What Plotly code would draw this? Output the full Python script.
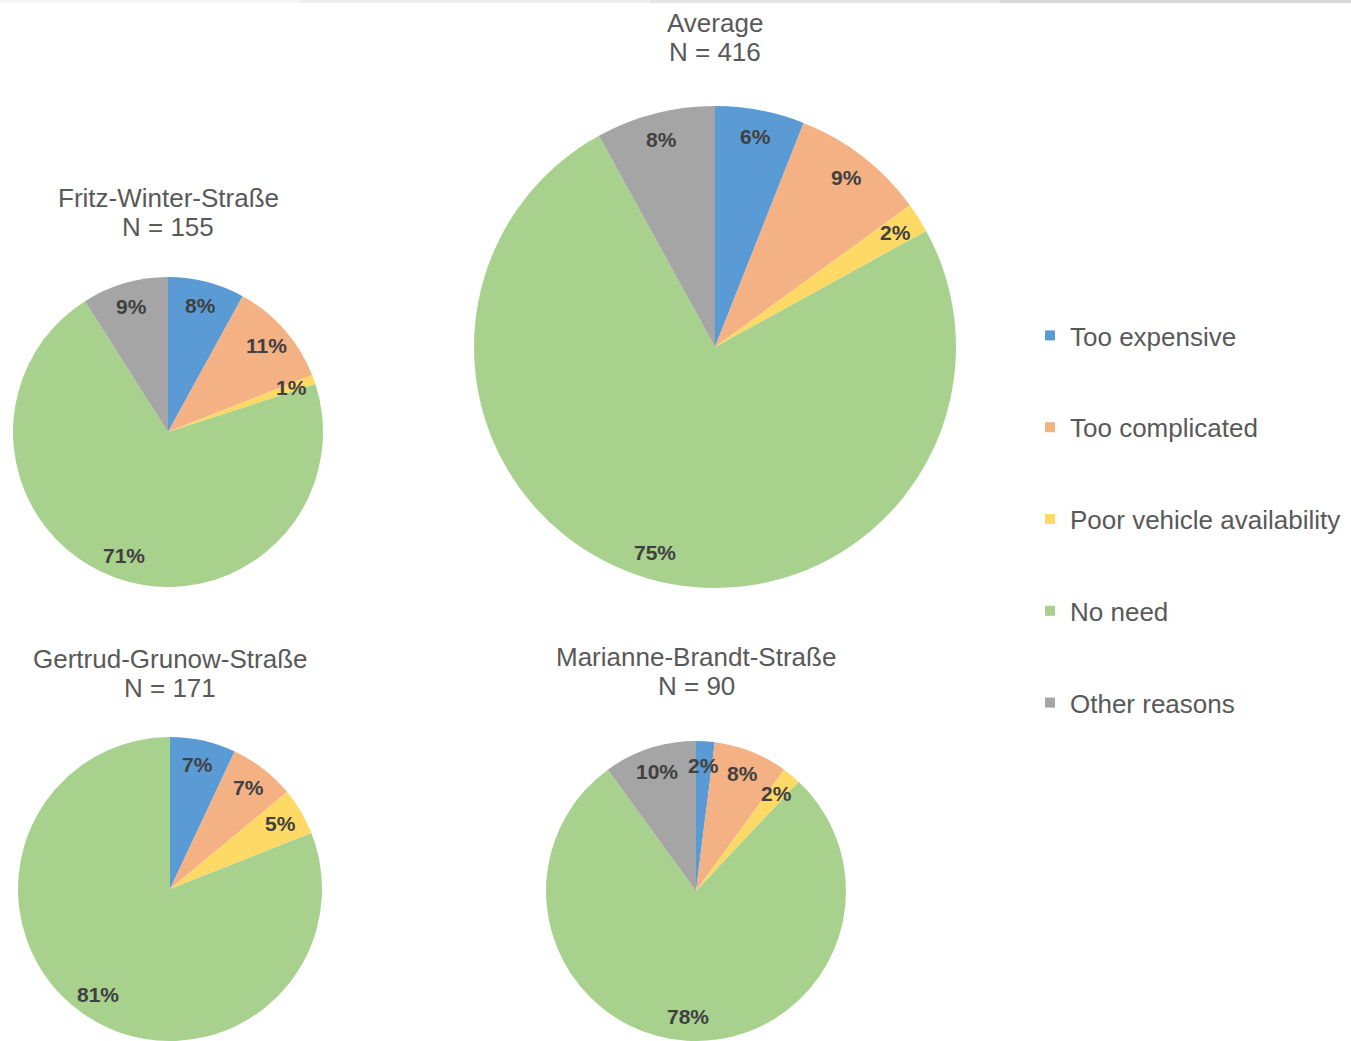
import math
import plotly.graph_objects as go

# Reasons for not using the service, share of respondents (%)
reasons = ["Too expensive", "Too complicated", "Poor vehicle availability", "No need", "Other reasons"]
colors = ["#5B9BD5", "#F4B183", "#FFD966", "#A9D18E", "#A5A5A5"]

sites = ["Average", "Fritz-Winter-Straße", "Gertrud-Grunow-Straße", "Marianne-Brandt-Straße"]
sample_sizes = [416, 155, 171, 90]

avg_values = [6, 9, 2, 75, 8]
fritz_values = [8, 11, 1, 71, 9]
gertrud_values = [7, 7, 5, 81, 0]
marianne_values = [2, 8, 2, 78, 10]
site_values = [avg_values, fritz_values, gertrud_values, marianne_values]

W, H = 1351, 1041
# pie centre (px), radius (px) and title first-line centre (px) for each site
layout_px = [
    (715, 347, 241, 23),
    (168, 432, 155, 198),
    (170, 889, 152, 659),
    (696, 891, 150, 657),
]
TITLE_LINE_GAP = 29

FONT = "Liberation Sans, Arial, sans-serif"


def clamp(v):
    return min(1.0, max(0.0, v))


fig = go.Figure()
annotations = []

for name, n, vals, (cx, cy, r, ty) in zip(sites, sample_sizes, site_values, layout_px):
    fig.add_trace(go.Pie(
        labels=reasons,
        values=vals,
        sort=False,
        direction="clockwise",
        rotation=0,
        marker=dict(colors=colors, line=dict(width=0)),
        textinfo="none",
        hoverinfo="label+percent",
        showlegend=False,
        domain=dict(x=[clamp((cx - r) / W), clamp((cx + r) / W)],
                    y=[clamp(1 - (cy + r) / H), clamp(1 - (cy - r) / H)]),
    ))
    # data labels placed near the outer edge of each slice
    total = sum(vals)
    cum = 0.0
    label_r = r - 24 if r < 200 else r - 27
    for v in vals:
        mid = (cum + v / 2) / total * 2 * math.pi
        cum += v
        if v <= 0:
            continue
        lx = cx + label_r * math.sin(mid)
        ly = cy - label_r * math.cos(mid)
        annotations.append(dict(
            x=lx / W, y=1 - ly / H, xref="paper", yref="paper",
            text=f"<b>{v}%</b>", showarrow=False,
            xanchor="center", yanchor="middle",
            font=dict(family=FONT, size=21, color="#404040"),
        ))
    # site title and sample size, one annotation per line
    for k, line in enumerate([name, f"N = {n}"]):
        annotations.append(dict(
            x=cx / W, y=1 - (ty + k * TITLE_LINE_GAP) / H, xref="paper", yref="paper",
            text=line, showarrow=False,
            xanchor="center", yanchor="middle",
            font=dict(family=FONT, size=26, color="#595959"),
        ))

# legend entries as square markers
for i, (lab, col) in enumerate(zip(reasons, colors)):
    fig.add_trace(go.Scatter(
        x=[None], y=[None], mode="markers", name=lab,
        marker=dict(symbol="square", size=10, color=col),
        legendgroup=f"g{i}", showlegend=True,
    ))

# thin grey band along the top edge
band = [("#f6f6f6", 0, 300), ("#eeeeee", 300, 650), ("#e4e4e4", 650, 1000), ("#d8d8d8", 1000, W)]
shapes = [dict(type="rect", xref="paper", yref="paper",
               x0=a / W, x1=b / W, y0=1 - 3 / H, y1=1,
               fillcolor=c, line=dict(width=0), layer="above")
          for c, a, b in band]

fig.update_layout(
    width=W, height=H,
    margin=dict(l=0, r=0, t=0, b=0),
    paper_bgcolor="white", plot_bgcolor="white",
    xaxis=dict(visible=False), yaxis=dict(visible=False),
    annotations=annotations,
    shapes=shapes,
    legend=dict(
        x=1030 / W, xanchor="left",
        y=1 - 312 / H, yanchor="top",
        font=dict(family=FONT, size=26, color="#595959"),
        tracegroupgap=55,
        itemsizing="trace",
        bgcolor="rgba(0,0,0,0)",
    ),
    showlegend=True,
)

fig.write_html("out.html")
